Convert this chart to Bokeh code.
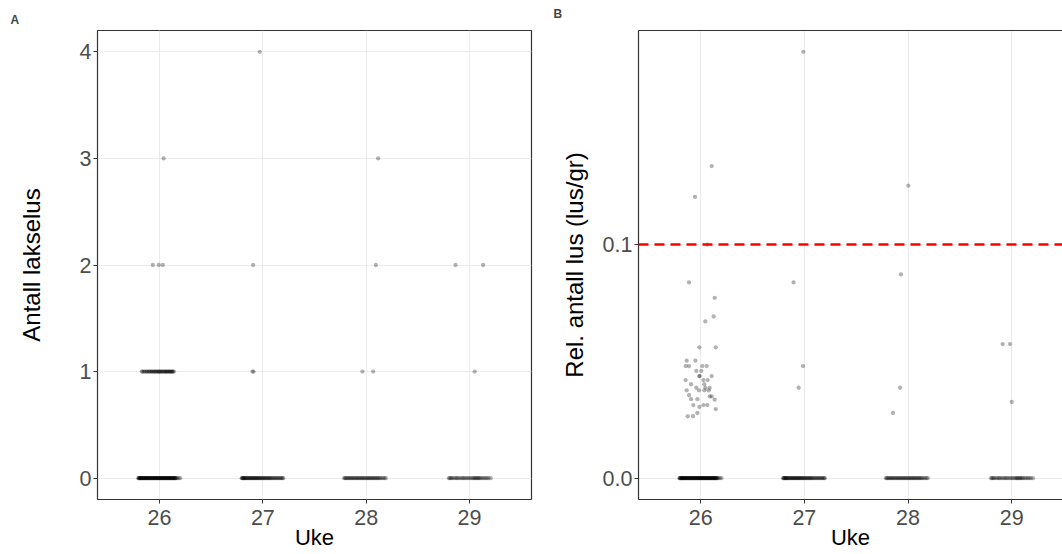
from bokeh.plotting import figure
from bokeh.layouts import row
from bokeh.models import ColumnDataSource, Range1d, FixedTicker, Span, LinearAxis, PrintfTickFormatter
from bokeh.embed import file_html
from bokeh.resources import INLINE

weeks = [26, 27, 28, 29]
threshold = 0.1

# ---- Panel A: non-zero lice counts (week, horizontal jitter, count) ----
a_week = [26] * 44 + [27] * 4 + [28] * 4 + [29] * 3
a_jit = [-0.17, -0.165, -0.15, -0.145, -0.13, -0.12, -0.115, -0.10, -0.095, -0.085,
         -0.075, -0.07, -0.06, -0.05, -0.045, -0.035, -0.03, -0.02, -0.01, -0.005,
         0.0, 0.01, 0.015, 0.025, 0.03, 0.04, 0.05, 0.055, 0.06, 0.07,
         0.075, 0.085, 0.09, 0.10, 0.105, 0.11, 0.12, 0.125, 0.13, 0.14,
         -0.065, -0.007, 0.032, 0.04,
         -0.10, -0.09, -0.094, -0.03,
         -0.036, 0.068, 0.094, 0.116,
         0.05, -0.135, 0.132]
a_count = [1] * 40 + [2, 2, 2, 3] + [1, 1, 2, 4] + [1, 1, 2, 3] + [1, 2, 2]

# ---- fish with zero lice: horizontal jitter per week ----
zero_jit_26 = [-0.205, -0.2, -0.197, -0.193, -0.19, -0.186, -0.182, -0.178, -0.175, -0.17,
               -0.166, -0.162, -0.158, -0.153, -0.15, -0.146, -0.141, -0.137, -0.133, -0.129,
               -0.125, -0.12, -0.116, -0.112, -0.108, -0.103, -0.099, -0.095, -0.09, -0.086,
               -0.082, -0.078, -0.073, -0.069, -0.065, -0.06, -0.056, -0.052, -0.048, -0.043,
               -0.039, -0.035, -0.03, -0.026, -0.022, -0.018, -0.013, -0.009, -0.005, 0.0,
               0.004, 0.008, 0.013, 0.017, 0.021, 0.026, 0.03, 0.034, 0.039, 0.043,
               0.047, 0.052, 0.056, 0.06, 0.065, 0.069, 0.073, 0.078, 0.082, 0.086,
               0.091, 0.095, 0.099, 0.104, 0.108, 0.112, 0.117, 0.121, 0.125, 0.13,
               0.134, 0.138, 0.143, 0.147, 0.151, 0.156, 0.16, 0.17, 0.185, 0.2]
zero_jit_27 = [-0.205, -0.2, -0.195, -0.19, -0.185, -0.18, -0.175, -0.17, -0.163, -0.157,
               -0.15, -0.143, -0.137, -0.13, -0.123, -0.117, -0.11, -0.103, -0.097, -0.09,
               -0.083, -0.077, -0.07, -0.063, -0.057, -0.05, -0.043, -0.036, -0.03, -0.022,
               -0.015, -0.007, 0.0, 0.008, 0.016, 0.024, 0.032, 0.04, 0.048, 0.056,
               0.064, 0.072, 0.08, 0.09, 0.1, 0.11, 0.12, 0.13, 0.14, 0.15,
               0.16, 0.17, 0.18, 0.19, 0.197]
zero_jit_28 = [-0.213, -0.205, -0.196, -0.185, -0.176, -0.165, -0.157, -0.145, -0.137, -0.125,
               -0.116, -0.104, -0.096, -0.085, -0.074, -0.066, -0.055, -0.044, -0.036, -0.025,
               -0.016, -0.004, 0.006, 0.015, 0.026, 0.034, 0.045, 0.056, 0.064, 0.075,
               0.084, 0.096, 0.105, 0.114, 0.126, 0.135, 0.15, 0.163, 0.178, 0.19]
zero_jit_29 = [-0.2, -0.19, -0.18, -0.17, -0.155, -0.14, -0.125, -0.116, -0.1, -0.085,
               -0.07, -0.058, -0.045, -0.03, -0.015, 0.0, 0.012, 0.029, 0.04, 0.05,
               0.058, 0.07, 0.08, 0.087, 0.1, 0.11, 0.126, 0.14, 0.155, 0.17,
               0.184, 0.205]
zero_jit = zero_jit_26 + zero_jit_27 + zero_jit_28 + zero_jit_29
zero_week = ([26] * len(zero_jit_26) + [27] * len(zero_jit_27)
             + [28] * len(zero_jit_28) + [29] * len(zero_jit_29))

# ---- Panel B: non-zero relative lice (lice per gram) ----
b_week = [26] * 46 + [27] * 4 + [28] * 4 + [29] * 3
b_jit = [0.106, -0.055, 0.065, -0.113, 0.135, 0.125, 0.045, -0.013, 0.145, -0.135,
         -0.051, -0.145, -0.113, 0.016, 0.058, -0.042, 0.006, -0.013, -0.010, 0.106,
         -0.145, 0.026, 0.067, -0.093, 0.035, -0.042, 0.045, 0.087, -0.135, -0.016,
         0.035, 0.077, -0.113, -0.093, -0.032, 0.087, 0.106, 0.135, -0.071, -0.013,
         0.026, 0.064, 0.145, -0.032, -0.125, -0.074,
         -0.010, -0.104, -0.013, -0.055,
         0.003, -0.068, -0.077, -0.145,
         -0.087, -0.016, 0.0]
b_rel = [0.1336, 0.1204, 0.1000, 0.0838, 0.0772, 0.0692, 0.0671, 0.0560, 0.0560, 0.0503,
         0.0503, 0.0480, 0.0480, 0.0480, 0.0480, 0.0459, 0.0459, 0.0437, 0.0437, 0.0437,
         0.0420, 0.0420, 0.0420, 0.0402, 0.0402, 0.0387, 0.0387, 0.0387, 0.0376, 0.0376,
         0.0376, 0.0376, 0.0355, 0.0338, 0.0338, 0.0350, 0.0350, 0.0336, 0.0313, 0.0305,
         0.0313, 0.0313, 0.0296, 0.0279, 0.0265, 0.0265,
         0.1825, 0.0838, 0.0480, 0.0387,
         0.1252, 0.0872, 0.0387, 0.0279,
         0.0574, 0.0574, 0.0326]

FONT = "Liberation Sans"
GRID = "#ebebeb"
DARK = "#333333"
TICKLAB = "#4d4d4d"


def style(p, ylabel, ticks_y, label_standoff):
    p.xaxis.ticker = FixedTicker(ticks=weeks)
    p.yaxis.ticker = FixedTicker(ticks=ticks_y)
    p.xgrid.grid_line_color = GRID
    p.ygrid.grid_line_color = GRID
    p.xgrid.grid_line_width = 1
    p.ygrid.grid_line_width = 1
    for ax in (p.xaxis, p.yaxis):
        ax.major_label_text_font = FONT
        ax.major_label_text_font_size = "21.5px"
        ax.major_label_text_color = TICKLAB
        ax.axis_label_text_font = FONT
        ax.axis_label_text_font_style = "normal"
        ax.axis_label_text_color = "black"
        ax.major_tick_in = 0
        ax.major_tick_out = 4
        ax.major_tick_line_color = DARK
        ax.minor_tick_line_color = None
    p.xaxis.major_label_standoff = 6
    p.yaxis.major_label_standoff = 2
    p.xaxis.axis_label = "Uke"
    p.xaxis.axis_label_text_font_size = "22px"
    p.xaxis.axis_label_standoff = -3
    p.yaxis.axis_label = ylabel
    p.yaxis.axis_label_text_font_size = "24px"
    p.yaxis.axis_label_standoff = label_standoff
    p.title.text_font = FONT
    p.title.text_font_size = "12px"
    p.title.text_font_style = "bold"
    p.title.align = "left"
    p.title.standoff = 8


# ---------------- Panel A ----------------
pa = figure(width=540, height=554, output_backend="svg", toolbar_location=None,
            x_range=Range1d(25.4, 29.6), y_range=Range1d(-0.2, 4.2),
            min_border_left=97, min_border_right=9, min_border_top=30, min_border_bottom=55,
            title="A")
style(pa, "Antall lakselus", [0, 1, 2, 3, 4], 32)
pa.title.offset = -87
pa.outline_line_color = DARK
pa.outline_line_width = 1.2
pa.xaxis.axis_line_color = None
pa.yaxis.axis_line_color = None

src_za = ColumnDataSource(dict(x=[w + j for w, j in zip(zero_week, zero_jit)], y=[0] * len(zero_week)))
src_a = ColumnDataSource(dict(x=[w + j for w, j in zip(a_week, a_jit)], y=a_count))
pa.scatter("x", "y", source=src_za, size=4.3, color="black", alpha=0.3, line_color=None)
pa.scatter("x", "y", source=src_a, size=4.3, color="black", alpha=0.3, line_color=None)

# ---------------- Panel B ----------------
bmax = max(b_rel)
pad = 0.05 * bmax
pb = figure(width=522, height=554, output_backend="svg", toolbar_location=None,
            x_range=Range1d(25.4, 29.49), y_range=Range1d(-pad, bmax + pad),
            min_border_left=98, min_border_right=0, min_border_top=30, min_border_bottom=55,
            title="B")
style(pb, "Rel. antall lus (lus/gr)", [0.0, 0.1], 12)
pb.title.offset = -85
pb.yaxis.formatter = PrintfTickFormatter(format="%.1f")
pb.outline_line_color = None
pb.xaxis.axis_line_color = DARK
pb.yaxis.axis_line_color = DARK
pb.xaxis.axis_line_width = 1.2
pb.yaxis.axis_line_width = 1.2
top = LinearAxis(axis_line_color=DARK, axis_line_width=1.2, major_tick_line_color=None,
                 minor_tick_line_color=None, major_label_text_font_size="0px",
                 major_label_text_color=None)
pb.add_layout(top, "above")

src_zb = ColumnDataSource(dict(x=[w + j for w, j in zip(zero_week, zero_jit)], y=[0.0] * len(zero_week)))
src_b = ColumnDataSource(dict(x=[w + j for w, j in zip(b_week, b_jit)], y=b_rel))
pb.scatter("x", "y", source=src_zb, size=4.3, color="black", alpha=0.3, line_color=None)
pb.scatter("x", "y", source=src_b, size=4.3, color="black", alpha=0.3, line_color=None)
pb.add_layout(Span(location=threshold, dimension="width", line_color="#ff0000",
                   line_dash="10 6", line_width=2.5))

layout = row(pa, pb)
open("out.html", "w").write(file_html(layout, INLINE))
